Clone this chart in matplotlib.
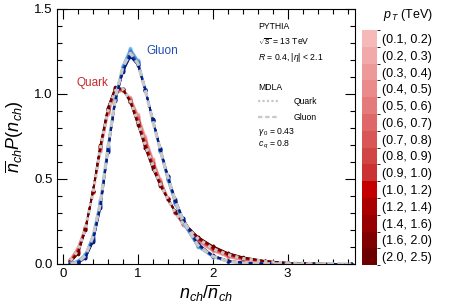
import numpy as np
import matplotlib
matplotlib.use("Agg")
import matplotlib.pyplot as plt
from matplotlib.colors import ListedColormap, BoundaryNorm
from matplotlib.ticker import MultipleLocator

plt.rcParams['font.family'] = ['Liberation Sans', 'DejaVu Sans']
plt.rcParams['mathtext.fontset'] = 'custom'
plt.rcParams['mathtext.rm'] = 'Liberation Sans'
plt.rcParams['mathtext.it'] = 'Liberation Sans:italic'

# pT bins (TeV)
pt_labels = ['(0.1, 0.2)', '(0.2, 0.3)', '(0.3, 0.4)', '(0.4, 0.5)', '(0.5, 0.6)',
             '(0.6, 0.7)', '(0.7, 0.8)', '(0.8, 0.9)', '(0.9, 1.0)', '(1.0, 1.2)',
             '(1.2, 1.4)', '(1.4, 1.6)', '(1.6, 2.0)', '(2.0, 2.5)']

reds = ['#f6b9b9', '#f2a9a9', '#ee9999', '#ea8a8a', '#e47a7a', '#de6868', '#d85656',
        '#d24545', '#cb3232', '#c20000', '#ab0000', '#960000', '#800000', '#6c0000']
blues = ['#9ec9f0', '#8bbdec', '#78b0e7', '#65a3e2', '#5396dc', '#4189d5', '#327bcd',
         '#266cc3', '#1e5db8', '#184fad', '#1341a2', '#0e3497', '#0a288d', '#061c82']

# n_ch / mean n_ch
x_kno = [0.1, 0.2, 0.3, 0.4, 0.5, 0.6, 0.7, 0.8, 0.9, 1.0, 1.1, 1.2, 1.3, 1.4, 1.5, 1.6,
         1.8, 2.0, 2.2, 2.4, 2.7, 3.0, 3.4, 3.85]

# quark jets, one row per pT bin (low -> high)
quark = [
    [.030, .100, .220, .420, .660, .880, 1.000, 1.020, .980, .880, .750, .620, .500, .390, .300, .230, .130, .075, .040, .020, .008, .003, .001, 0],
    [.028, .097, .218, .421, .663, .883, 1.003, 1.021, .978, .875, .745, .615, .497, .389, .301, .232, .132, .077, .042, .022, .009, .003, .001, 0],
    [.027, .094, .217, .422, .666, .886, 1.006, 1.022, .975, .871, .739, .611, .494, .388, .302, .233, .135, .080, .044, .023, .010, .004, .001, 0],
    [.025, .091, .215, .422, .669, .889, 1.009, 1.022, .973, .866, .734, .606, .491, .388, .302, .235, .137, .082, .046, .025, .010, .004, .001, 0],
    [.024, .088, .214, .423, .672, .892, 1.012, 1.023, .971, .862, .728, .602, .488, .387, .303, .236, .139, .084, .048, .026, .011, .004, .001, 0],
    [.022, .085, .212, .424, .675, .895, 1.015, 1.024, .968, .857, .723, .597, .485, .386, .304, .238, .142, .087, .050, .028, .012, .005, .001, 0],
    [.021, .082, .211, .425, .678, .898, 1.018, 1.025, .966, .852, .718, .592, .482, .385, .305, .239, .144, .089, .052, .029, .013, .005, .001, 0],
    [.019, .078, .209, .425, .682, .902, 1.022, 1.025, .964, .848, .712, .588, .478, .385, .305, .241, .146, .091, .053, .031, .013, .005, .002, 0],
    [.018, .075, .208, .426, .685, .905, 1.025, 1.026, .962, .843, .707, .583, .475, .384, .306, .242, .148, .093, .055, .032, .014, .005, .002, 0],
    [.016, .072, .206, .427, .688, .908, 1.028, 1.027, .959, .838, .702, .578, .472, .383, .307, .244, .151, .096, .057, .034, .015, .006, .002, 0],
    [.015, .069, .205, .428, .691, .911, 1.031, 1.028, .957, .834, .696, .574, .469, .382, .308, .245, .153, .098, .059, .035, .016, .006, .002, 0],
    [.013, .066, .203, .428, .694, .914, 1.034, 1.028, .955, .829, .691, .569, .466, .382, .308, .247, .155, .100, .061, .037, .016, .006, .002, 0],
    [.012, .063, .202, .429, .697, .917, 1.037, 1.029, .952, .825, .685, .565, .463, .381, .309, .248, .158, .103, .063, .038, .017, .007, .002, 0],
    [.010, .060, .200, .430, .700, .920, 1.040, 1.030, .950, .820, .680, .560, .460, .380, .310, .250, .160, .105, .065, .040, .018, .007, .002, 0],
]

# gluon jets, one row per pT bin (low -> high)
gluon = [
    [.005, .020, .060, .170, .380, .700, .990, 1.170, 1.270, 1.200, 1.030, .840, .660, .490, .350, .240, .100, .040, .014, .005, .001, 0, 0, 0],
    [.005, .019, .058, .167, .376, .697, .988, 1.167, 1.266, 1.198, 1.029, .841, .662, .492, .352, .242, .102, .041, .014, .005, .001, 0, 0, 0],
    [.004, .018, .056, .164, .372, .694, .985, 1.164, 1.262, 1.195, 1.028, .842, .663, .495, .355, .245, .103, .042, .015, .005, .001, 0, 0, 0],
    [.004, .017, .054, .161, .368, .691, .983, 1.161, 1.258, 1.193, 1.028, .842, .665, .497, .357, .247, .105, .042, .015, .006, .001, 0, 0, 0],
    [.003, .015, .052, .158, .365, .688, .981, 1.158, 1.255, 1.191, 1.027, .843, .666, .499, .359, .249, .106, .043, .016, .006, .001, 0, 0, 0],
    [.003, .014, .050, .155, .361, .685, .978, 1.155, 1.251, 1.188, 1.026, .844, .668, .502, .362, .252, .108, .044, .016, .006, .001, 0, 0, 0],
    [.003, .013, .048, .152, .357, .682, .976, 1.152, 1.247, 1.186, 1.025, .845, .669, .504, .364, .254, .109, .045, .017, .006, .001, 0, 0, 0],
    [.002, .012, .047, .148, .353, .678, .974, 1.148, 1.243, 1.184, 1.025, .845, .671, .506, .366, .256, .111, .045, .017, .007, .002, 0, 0, 0],
    [.002, .011, .045, .145, .349, .675, .972, 1.145, 1.239, 1.182, 1.024, .846, .672, .508, .368, .258, .112, .046, .018, .007, .002, 0, 0, 0],
    [.002, .010, .043, .142, .345, .672, .969, 1.142, 1.235, 1.179, 1.023, .847, .674, .511, .371, .261, .114, .047, .018, .007, .002, 0, 0, 0],
    [.001, .008, .041, .139, .342, .669, .967, 1.139, 1.232, 1.177, 1.022, .848, .675, .513, .373, .263, .115, .048, .019, .007, .002, 0, 0, 0],
    [.001, .007, .039, .136, .338, .666, .965, 1.136, 1.228, 1.175, 1.022, .848, .677, .515, .375, .265, .117, .048, .019, .008, .002, 0, 0, 0],
    [.000, .006, .037, .133, .334, .663, .962, 1.133, 1.224, 1.172, 1.021, .849, .678, .518, .378, .268, .118, .049, .020, .008, .002, 0, 0, 0],
    [.000, .005, .035, .130, .330, .660, .960, 1.130, 1.220, 1.170, 1.020, .850, .680, .520, .380, .270, .120, .050, .020, .008, .002, 0, 0, 0],
]

# MDLA predictions
mdla_quark = [.020, .080, .210, .420, .680, .900, 1.020, 1.030, .960, .840, .700, .580, .470, .380, .300, .240, .150, .090, .055, .032, .014, .006, .002, 0]
mdla_gluon = [.000, .010, .050, .160, .360, .680, .980, 1.160, 1.240, 1.180, 1.020, .840, .670, .510, .370, .260, .110, .045, .017, .006, .001, 0, 0, 0]

fig = plt.figure(figsize=(4.5, 3.04), dpi=100)
ax = fig.add_axes([0.1267, 0.1316, 0.6622, 0.8388])

# data curves
for i in range(len(pt_labels)):
    ax.plot(x_kno, quark[i], '-o', color=reds[i], lw=1.2, ms=2.6, mew=0)
for i in range(len(pt_labels)):
    ax.plot(x_kno, gluon[i], '-o', color=blues[i], lw=1.2, ms=2.6, mew=0)

# MDLA on top
ax.plot(x_kno, mdla_quark, color='#c8c8c8', lw=2.4, ls=(0, (1, 1.2)))
ax.plot(x_kno, mdla_gluon, color='#c8c8c8', lw=2.4, ls=(0, (2, 1.2)))

ax.set_xlim(-0.08, 3.9)
ax.set_ylim(0, 1.5)
ax.xaxis.set_major_locator(MultipleLocator(1))
ax.xaxis.set_minor_locator(MultipleLocator(0.2))
ax.yaxis.set_major_locator(MultipleLocator(0.5))
ax.yaxis.set_minor_locator(MultipleLocator(0.1))
ax.tick_params(which='both', direction='in', top=True, right=True, labelsize=9.5, pad=3)
ax.tick_params(which='major', length=7, width=0.8)
ax.tick_params(which='minor', length=3.5, width=0.8)
ax.set_yticks([0, 0.5, 1.0, 1.5])
ax.set_yticklabels(['0.0', '0.5', '1.0', '1.5'])
for s in ax.spines.values():
    s.set_linewidth(0.8)

ax.set_xlabel(r'$n_{ch}/\overline{n}_{ch}$', fontsize=13, labelpad=2)
ax.set_ylabel(r'$\overline{n}_{ch}P(n_{ch})$', fontsize=13, labelpad=6)

ax.text(0.39, 1.065, 'Quark', color='#c8282a', fontsize=8.5, ha='center', va='center')
ax.text(1.33, 1.25, 'Gluon', color='#1f4fb4', fontsize=8.5, ha='center', va='center')

# annotations
tx = 0.674
fs = 6.2
ax.text(tx, 0.933, 'PYTHIA', transform=ax.transAxes, fontsize=fs, va='center')
ax.text(tx, 0.871, r'$\sqrt{s}$ = 13 TeV', transform=ax.transAxes, fontsize=fs, va='center')
ax.text(tx, 0.808, r'$R$ = 0.4, |$\eta$| < 2.1', transform=ax.transAxes, fontsize=fs, va='center')
ax.text(tx, 0.694, 'MDLA', transform=ax.transAxes, fontsize=fs, va='center')
ax.plot([0.674, 0.742], [0.639, 0.639], transform=ax.transAxes, color='#c8c8c8', lw=1.6, ls=(0, (1, 1)))
ax.plot([0.674, 0.742], [0.576, 0.576], transform=ax.transAxes, color='#c8c8c8', lw=1.6, ls=(0, (2, 1.2)))
ax.text(0.795, 0.639, 'Quark', transform=ax.transAxes, fontsize=fs, va='center')
ax.text(0.795, 0.576, 'Gluon', transform=ax.transAxes, fontsize=fs, va='center')
ax.text(tx, 0.518, r'$\gamma_{\,0}$ = 0.43', transform=ax.transAxes, fontsize=fs, va='center')
ax.text(tx, 0.467, r'$c_{\,q}$ = 0.8', transform=ax.transAxes, fontsize=fs, va='center')

# pT colour key
cax = fig.add_axes([0.804, 0.128, 0.033, 0.773])
nb = len(pt_labels)
cmap = ListedColormap(reds[::-1])
norm = BoundaryNorm(np.arange(nb + 1), nb)
cb = fig.colorbar(plt.cm.ScalarMappable(norm=norm, cmap=cmap), cax=cax,
                  ticks=np.arange(nb) + 0.5)
cb.set_ticklabels(pt_labels[::-1])
cb.outline.set_visible(False)
cax.tick_params(length=0, labelsize=9, pad=4)
fig.text(0.852, 0.952, r'$p_{\,T}$ (TeV)', fontsize=9, va='center')

fig.savefig('out.png', dpi=100)
